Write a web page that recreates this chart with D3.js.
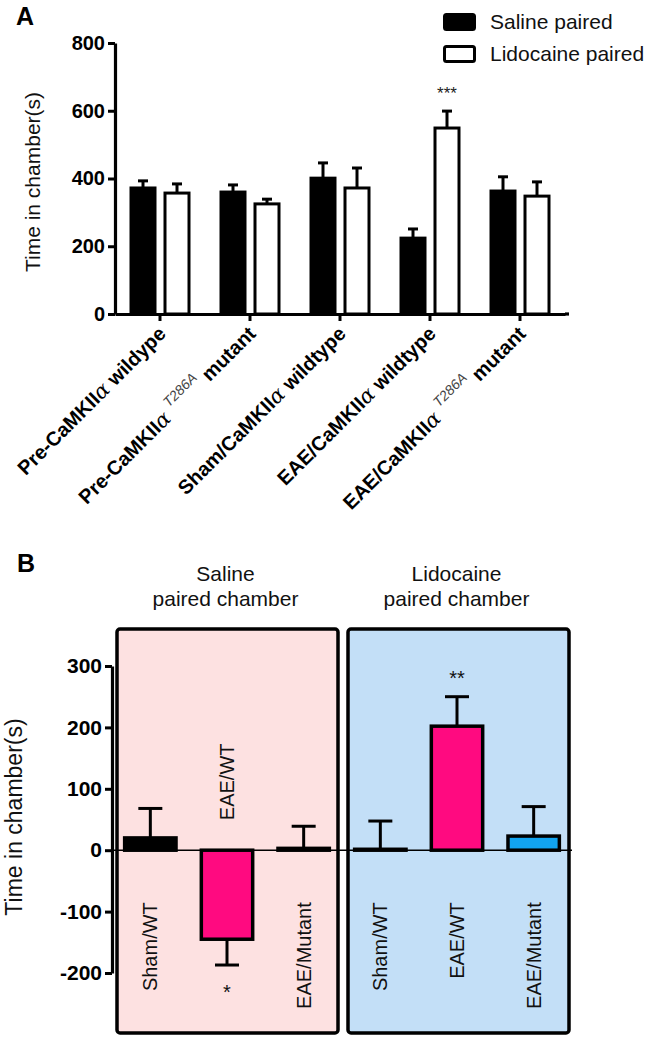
<!DOCTYPE html>
<html><head><meta charset="utf-8">
<script src="https://cdn.jsdelivr.net/npm/d3@7"></script>
<style>
html,body{margin:0;padding:0;background:#fff;}
svg{display:block;font-family:"Liberation Sans",Arial,sans-serif;}
</style></head>
<body>
<svg id="c" width="656" height="1038"></svg>
<script>
// ---------- Panel A data ----------
const catA_prefix = ["Pre-CaMKII", "Pre-CaMKII", "Sham/CaMKII", "EAE/CaMKII", "EAE/CaMKII"];
const catA_sup    = ["", "T286A", "", "", "T286A"];
const catA_suffix = ["wildype", "mutant", "wildtype", "wildtype", "mutant"];
const seriesA = ["Saline paired", "Lidocaine paired"];
const salineA    = [372, 360, 401, 224, 363];
const salineErrA = [21, 21, 45, 27, 42];
const lidoA      = [357, 325, 372, 549, 348];
const lidoErrA   = [27, 14, 59, 50, 42];
const ticksA = [0, 200, 400, 600, 800];
const sigA = ["", "", "", "***", ""];

// ---------- Panel B data ----------
const panelsB = [["Saline", "paired chamber"], ["Lidocaine", "paired chamber"]];
const catB = ["Sham/WT", "EAE/WT", "EAE/Mutant"];
const salineB    = [20, -145, 3];
const salineErrB = [48, 42, 36];
const lidoB      = [1.5, 202, 23];
const lidoErrB   = [46, 48, 48];
const sigSalineB = ["", "*", ""];
const sigLidoB   = ["", "**", ""];
const ticksB = [-200, -100, 0, 100, 200, 300];

const svg = d3.select("#c");
const fmt = d => String(d);

// ================= PANEL A =================
const xA = d3.scaleBand().domain(d3.range(5)).range([115, 565]).paddingInner(0).paddingOuter(0);
const yA = d3.scaleLinear().domain([0, 800]).range([314, 43]);
const barW = 24, off = 17;

svg.append("text").attr("x", 16).attr("y", 25).attr("font-size", 25).attr("font-weight", "bold").text("A");

// y axis
const gyA = svg.append("g").attr("transform", "translate(115,0)")
  .call(d3.axisLeft(yA).tickValues(ticksA).tickFormat(fmt).tickSize(7).tickSizeOuter(0).tickPadding(3));
gyA.select(".domain").attr("stroke-width", 3.2).attr("stroke", "#000");
gyA.selectAll(".tick line").attr("stroke-width", 3).attr("stroke", "#000");
gyA.selectAll(".tick text").attr("font-size", 20).attr("font-weight", "bold")
  .attr("font-family", "Liberation Sans, Arial, sans-serif").attr("fill", "#000");

svg.append("text").attr("transform", "translate(40,182) rotate(-90)")
  .attr("text-anchor", "middle").attr("font-size", 21).attr("fill", "#111").text("Time in chamber(s)");

// bars
const dataA = d3.range(5).map(i => ({i, s: salineA[i], se: salineErrA[i], l: lidoA[i], le: lidoErrA[i]}));
const cx = i => xA(i) + xA.bandwidth() / 2;

function errA(x, v, e) {
  svg.append("line").attr("x1", x).attr("x2", x).attr("y1", yA(v)).attr("y2", yA(v + e))
    .attr("stroke", "#000").attr("stroke-width", 3);
  svg.append("line").attr("x1", x - 5).attr("x2", x + 5).attr("y1", yA(v + e)).attr("y2", yA(v + e))
    .attr("stroke", "#000").attr("stroke-width", 3);
}
dataA.forEach(d => {
  errA(cx(d.i) - off, d.s, d.se);
  errA(cx(d.i) + off, d.l, d.le);
});
svg.selectAll(".barS").data(dataA).enter().append("rect")
  .attr("x", d => cx(d.i) - off - barW / 2).attr("y", d => yA(d.s))
  .attr("width", barW).attr("height", d => yA(0) - yA(d.s))
  .attr("fill", "#000").attr("stroke", "#000").attr("stroke-width", 3);
svg.selectAll(".barL").data(dataA).enter().append("rect")
  .attr("x", d => cx(d.i) + off - barW / 2).attr("y", d => yA(d.l))
  .attr("width", barW).attr("height", d => yA(0) - yA(d.l))
  .attr("fill", "#fff").attr("stroke", "#000").attr("stroke-width", 3);

dataA.forEach(d => {
  if (sigA[d.i]) svg.append("text").attr("x", cx(d.i) + off).attr("y", yA(d.l + d.le) - 12)
    .attr("text-anchor", "middle").attr("font-size", 17).attr("fill", "#222").text(sigA[d.i]);
});

// x axis
const gxA = svg.append("g").attr("transform", "translate(0,314)")
  .call(d3.axisBottom(xA).tickSize(7).tickSizeOuter(0).tickFormat(""));
gxA.select(".domain").attr("stroke-width", 3.2).attr("stroke", "#000");
gxA.selectAll(".tick line").attr("stroke-width", 3).attr("stroke", "#000");
svg.append("line").attr("x1", 565).attr("x2", 569).attr("y1", 314).attr("y2", 314).attr("stroke", "#000").attr("stroke-width", 3.2);

// x labels
d3.range(5).forEach(i => {
  const t = svg.append("text")
    .attr("transform", `translate(${cx(i) + 7},${335}) rotate(-45)`)
    .attr("text-anchor", "end").attr("font-size", 20).attr("font-weight", "bold");
  t.append("tspan").text(catA_prefix[i]);
  t.append("tspan").attr("font-weight", "normal").attr("font-family", "DejaVu Serif, serif").attr("font-style", "italic").attr("font-size", 21).text("α");
  if (catA_sup[i]) {
    t.append("tspan").attr("font-weight", "normal").attr("font-style", "italic").attr("font-size", 14)
      .attr("fill", "#444").attr("dx", 6).attr("dy", -11).text(catA_sup[i]);
    t.append("tspan").attr("dy", 11).attr("dx", 6).text(catA_suffix[i]);
  } else {
    t.append("tspan").text(" " + catA_suffix[i]);
  }
});

// legend
seriesA.forEach((s, k) => {
  const y0 = k === 0 ? 13 : 45;
  svg.append("rect").attr("x", 444.5).attr("y", y0 + 1.5).attr("width", 30).attr("height", 15).attr("rx", 2)
    .attr("fill", k === 0 ? "#000" : "#fff").attr("stroke", "#000").attr("stroke-width", 3);
  svg.append("text").attr("x", 490).attr("y", y0 + 16).attr("font-size", 21).attr("fill", "#111").text(s);
});

// ================= PANEL B =================
svg.append("text").attr("x", 17).attr("y", 572).attr("font-size", 25).attr("font-weight", "bold").text("B");

const allCats = d3.range(6);
const xB = d3.scaleBand().domain(allCats).range([112, 572]).paddingInner(0.33).paddingOuter(0.165);
const yB = d3.scaleLinear().domain([-200, 300]).range([973, 666]);
const cxB = i => xB(i) + xB.bandwidth() / 2;

const boxes = [
  {x0: 117, x1: 338, fill: "#fde1e1"},
  {x0: 348, x1: 569, fill: "#c3dff7"}
];
boxes.forEach((b, k) => {
  svg.append("rect").attr("x", b.x0).attr("y", 629).attr("width", b.x1 - b.x0).attr("height", 404)
    .attr("rx", 3).attr("fill", b.fill).attr("stroke", "#000").attr("stroke-width", 3.5);
  const tx = (b.x0 + b.x1) / 2 - 2;
  svg.append("text").attr("x", tx).attr("y", 581).attr("text-anchor", "middle").attr("font-size", 21).attr("fill", "#111").text(panelsB[k][0]);
  svg.append("text").attr("x", tx).attr("y", 606).attr("text-anchor", "middle").attr("font-size", 21).attr("fill", "#111").text(panelsB[k][1]);
});

// y axis
const gyB = svg.append("g").attr("transform", "translate(112,0)")
  .call(d3.axisLeft(yB).tickValues(ticksB).tickFormat(fmt).tickSize(7).tickSizeOuter(0).tickPadding(3));
gyB.select(".domain").attr("stroke-width", 3.2).attr("stroke", "#000");
gyB.selectAll(".tick line").attr("stroke-width", 3).attr("stroke", "#000");
gyB.selectAll(".tick text").attr("font-size", 21).attr("font-weight", "bold")
  .attr("font-family", "Liberation Sans, Arial, sans-serif").attr("fill", "#000");

svg.append("text").attr("transform", "translate(22,817) rotate(-90)")
  .attr("text-anchor", "middle").attr("font-size", 23).attr("fill", "#111").text("Time in chamber(s)");

// bars
const barColorsSal = ["#000", "#ff0a80", "#000"];
const barColorsLid = ["#000", "#ff0a80", "#12a4f0"];
const dataB = [];
salineB.forEach((v, j) => dataB.push({i: j, v, e: salineErrB[j], c: barColorsSal[j], lab: catB[j], sig: sigSalineB[j]}));
lidoB.forEach((v, j) => dataB.push({i: j + 3, v, e: lidoErrB[j], c: barColorsLid[j], lab: catB[j], sig: sigLidoB[j]}));

dataB.forEach(d => {
  const x = cxB(d.i);
  const tip = d.v >= 0 ? d.v + d.e : d.v - d.e;
  svg.append("line").attr("x1", x).attr("x2", x).attr("y1", yB(d.v)).attr("y2", yB(tip)).attr("stroke", "#000").attr("stroke-width", 3);
  svg.append("line").attr("x1", x - 12).attr("x2", x + 12).attr("y1", yB(tip)).attr("y2", yB(tip)).attr("stroke", "#000").attr("stroke-width", 3);
});
svg.selectAll(".barB").data(dataB).enter().append("rect")
  .attr("x", d => xB(d.i)).attr("y", d => yB(Math.max(0, d.v)))
  .attr("width", xB.bandwidth()).attr("height", d => Math.max(0.5, Math.abs(yB(d.v) - yB(0))))
  .attr("fill", d => d.c).attr("stroke", "#000").attr("stroke-width", 3.5);

svg.append("line").attr("x1", 112).attr("x2", 572).attr("y1", yB(0)).attr("y2", yB(0)).attr("stroke", "#000").attr("stroke-width", 1.6);

dataB.forEach(d => {
  const x = cxB(d.i) + 7;
  if (d.v < 0) {
    svg.append("text").attr("transform", `translate(${x},${yB(0) - 30}) rotate(-90)`)
      .attr("text-anchor", "start").attr("font-size", 20).attr("fill", "#111").text(d.lab);
  } else {
    svg.append("text").attr("transform", `translate(${x},${yB(0) + 52}) rotate(-90)`)
      .attr("text-anchor", "end").attr("font-size", 20).attr("fill", "#111").text(d.lab);
  }
  if (d.sig) {
    const tip = d.v >= 0 ? d.v + d.e : d.v - d.e;
    const ty = d.v >= 0 ? yB(tip) - 12 : yB(tip) + 34;
    svg.append("text").attr("x", cxB(d.i)).attr("y", ty).attr("text-anchor", "middle")
      .attr("font-size", 20).attr("fill", "#111").text(d.sig);
  }
});
</script>
</body></html>
